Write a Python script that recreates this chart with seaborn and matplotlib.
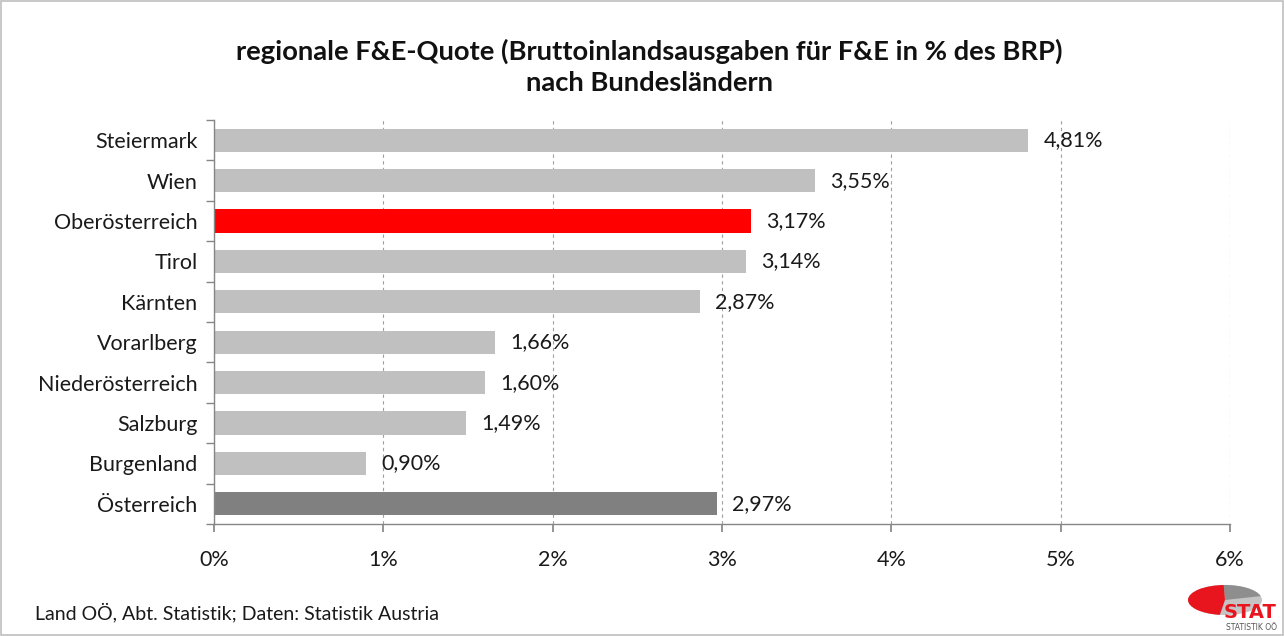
import matplotlib
matplotlib.use("Agg")
import matplotlib.pyplot as plt
import seaborn as sns
import pandas as pd
import numpy as np
from matplotlib.patches import Ellipse, Wedge, Rectangle
from matplotlib.ticker import FixedLocator, FuncFormatter

regions = ["Steiermark", "Wien", "Oberösterreich", "Tirol", "Kärnten", "Vorarlberg",
           "Niederösterreich", "Salzburg", "Burgenland", "Österreich"]
values = [4.81, 3.55, 3.17, 3.14, 2.87, 1.66, 1.60, 1.49, 0.90, 2.97]
bar_colors = ["#C0C0C0", "#C0C0C0", "#FF0000", "#C0C0C0", "#C0C0C0", "#C0C0C0",
              "#C0C0C0", "#C0C0C0", "#C0C0C0", "#808080"]
x_ticks = [0, 1, 2, 3, 4, 5, 6]

title = "regionale F&E-Quote (Bruttoinlandsausgaben für F&E in % des BRP)\nnach Bundesländern"
source = "Land OÖ, Abt. Statistik; Daten: Statistik Austria"

sns.set_theme(style="white")
plt.rcParams["font.family"] = ["Lato", "DejaVu Sans"]

df = pd.DataFrame({"region": regions, "value": values})

fig = plt.figure(figsize=(12.84, 6.36), dpi=100)
ax = fig.add_axes([214/1284, 1-524/636, (1230-214)/1284, (524-120)/636])

sns.barplot(data=df, y="region", x="value", hue="region", palette=bar_colors,
            legend=False, orient="h", width=0.57, ax=ax, saturation=1, edgecolor="none")

ax.set_xlim(0, 6)
ax.set_ylim(len(regions)-0.5, -0.5)
ax.xaxis.set_major_locator(FixedLocator(x_ticks))
ax.xaxis.set_major_formatter(FuncFormatter(lambda v, p: f"{int(v)}%"))
ax.set_xlabel("")
ax.set_ylabel("")
ax.grid(axis="x", color="#A0A0A0", linestyle=(0, (3, 3)), linewidth=0.8)
ax.set_axisbelow(True)

for s in ["top", "right"]:
    ax.spines[s].set_visible(False)
for s in ["left", "bottom"]:
    ax.spines[s].set_color("#868686")
    ax.spines[s].set_linewidth(1.0)

ax.tick_params(axis="x", which="major", direction="out", length=6, color="#868686",
               labelsize=15.5, pad=13, bottom=True)
ax.tick_params(axis="y", which="major", length=0, labelsize=15.5, pad=12)
ax.yaxis.set_minor_locator(FixedLocator(np.arange(-0.5, len(regions), 1.0)))
ax.tick_params(axis="y", which="minor", direction="out", length=6, color="#868686", left=True)
for lab in ax.get_xticklabels() + ax.get_yticklabels():
    lab.set_color("#1a1a1a")

for i, v in enumerate(values):
    ax.text(v + 0.09, i, f"{v:.2f}%".replace(".", ","), va="center", ha="left",
            fontsize=15.5, color="#1a1a1a")

fig.text(0.506, 1-67/636, title, ha="center", va="center", fontsize=19.7,
         fontweight="bold", linespacing=1.38, color="#111111")
fig.text(35/1284, 1-612/636, source, ha="left", va="center", fontsize=14, color="#1a1a1a")

# border
fig.patches.append(Rectangle((0.001, 0.001), 0.998, 0.997, transform=fig.transFigure,
                             fill=False, edgecolor="#BFBFBF", linewidth=1.2))

# logo (pixel-based coordinates, y measured upward from bottom edge)
lax = fig.add_axes([1180/1284, 0, 104/1284, 66/636])
lax.set_xlim(1180, 1284)
lax.set_ylim(0, 66)
lax.axis("off")
cx, cy, w, h = 1225, 36, 74, 30
lax.add_patch(Ellipse((cx, cy), w, h, facecolor="#C4C4C4", edgecolor="none"))
tr = matplotlib.transforms.Affine2D().scale(w/2, h/2).translate(cx, cy) + lax.transData
lax.add_patch(Wedge((0, 0), 1, 15, 92, facecolor="#8E8E8E", edgecolor="none", transform=tr))
lax.add_patch(Wedge((0, 0), 1, 92, 262, facecolor="#E8141E", edgecolor="none", transform=tr))
lax.text(1250, 24, "STAT", ha="center", va="center", fontsize=14, fontweight="bold",
         color="#E8141E", family=["DejaVu Sans"])
lax.text(1251, 8.5, "STATISTIK OÖ", ha="center", va="center", fontsize=5.5, color="#555555",
         family=["DejaVu Sans"])

fig.savefig("out.png", dpi=100)
